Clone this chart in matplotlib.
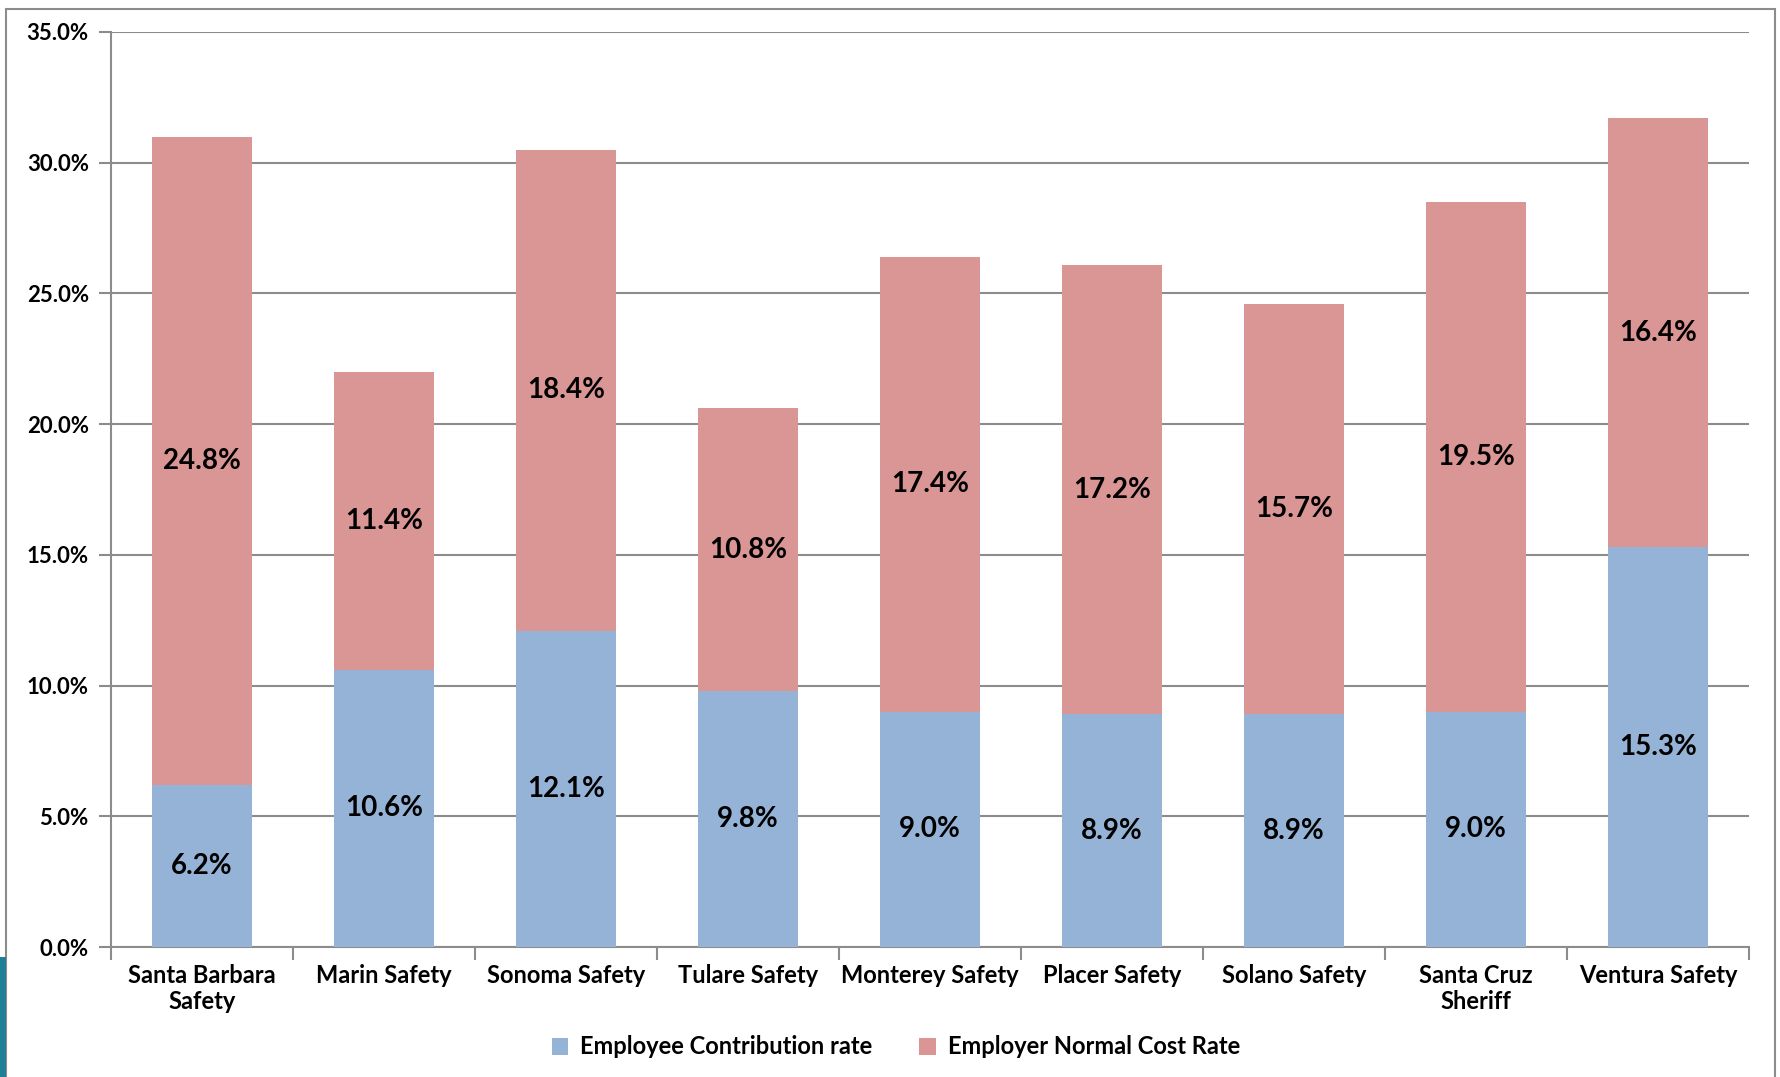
import matplotlib
matplotlib.use("Agg")
import matplotlib.pyplot as plt
from matplotlib.patches import Rectangle
from matplotlib.ticker import FuncFormatter, MultipleLocator
import numpy as np

categories = ["Santa Barbara\nSafety", "Marin Safety", "Sonoma Safety", "Tulare Safety",
              "Monterey Safety", "Placer Safety", "Solano Safety", "Santa Cruz\nSheriff",
              "Ventura Safety"]
employee = [6.2, 10.6, 12.1, 9.8, 9.0, 8.9, 8.9, 9.0, 15.3]
employer = [24.8, 11.4, 18.4, 10.8, 17.4, 17.2, 15.7, 19.5, 16.4]
series_names = ["Employee Contribution rate", "Employer Normal Cost Rate"]

plt.rcParams['font.family'] = ['Lato', 'DejaVu Sans']
plt.rcParams['font.weight'] = 'bold'

W, H = 1781, 1077
fig = plt.figure(figsize=(W / 100, H / 100), dpi=100)
ax = fig.add_axes([111 / W, 1 - 947 / H, (1749 - 111) / W, (947 - 32) / H])

blue = "#95B3D7"
pink = "#D99694"
x = np.arange(len(categories))
emp = np.array(employee)
er = np.array(employer)
b1 = ax.bar(x, emp, width=0.55, color=blue, label=series_names[0], zorder=3)
b2 = ax.bar(x, er, width=0.55, bottom=emp, color=pink, label=series_names[1], zorder=3)

for xi, e, r in zip(x, emp, er):
    ax.text(xi, e / 2, f"{e:.1f}%", ha='center', va='center', fontsize=20, fontweight='bold', zorder=4)
    ax.text(xi, e + r / 2, f"{r:.1f}%", ha='center', va='center', fontsize=20, fontweight='bold', zorder=4)

ax.set_ylim(0, 35)
ax.set_xlim(-0.5, len(categories) - 0.5)
ax.yaxis.set_major_locator(MultipleLocator(5))
ax.yaxis.set_major_formatter(FuncFormatter(lambda v, p: f"{v:.1f}%"))
ax.grid(axis='y', color='#8c8c8c', linewidth=1.5, zorder=0)
ax.set_axisbelow(True)
for s in ['top', 'right']:
    ax.spines[s].set_visible(False)
for s in ['left', 'bottom']:
    ax.spines[s].set_color('#8c8c8c')
    ax.spines[s].set_linewidth(1.5)

ax.set_xticks(x)
ax.set_xticklabels(categories, fontsize=17, fontweight='bold', linespacing=1.2)
ax.tick_params(axis='x', length=0, pad=12)
ax.set_xticks(np.arange(-0.5, len(categories)), minor=True)
ax.tick_params(axis='x', which='minor', length=9, width=1.5, color='#8c8c8c')
ax.tick_params(axis='y', length=9, width=1.5, color='#8c8c8c', labelsize=16, pad=7)
for lbl in ax.get_yticklabels():
    lbl.set_fontweight('bold')

fig.legend(handles=[b1, b2], labels=series_names, loc='center', bbox_to_anchor=(0.503, 1 - 1047 / H),
           ncol=2, frameon=False, handlelength=0.7, handleheight=0.7,
           columnspacing=2.0, handletextpad=0.5, prop={'weight': 'bold', 'size': 17})

# outer chart border
fig.patches.append(Rectangle((6 / W, -0.05), (1775 - 6) / W, 1.05 - 9 / H, transform=fig.transFigure,
                             fill=False, edgecolor='#8c8c8c', linewidth=1.5))
# slide decoration at bottom left
fig.patches.append(Rectangle((0, 0), 6 / W, 120 / H, transform=fig.transFigure,
                             facecolor='#1f7f94', edgecolor='none'))

fig.savefig("out.png", dpi=100)
